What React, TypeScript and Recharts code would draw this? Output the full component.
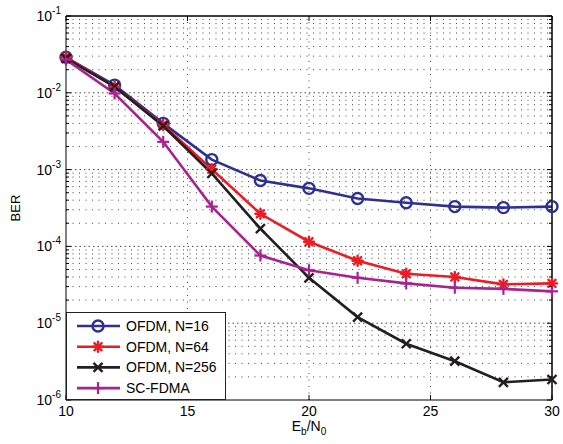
import React from "react";
import { LineChart, Line, XAxis, YAxis, ReferenceLine, Legend } from "recharts";

// Eb/N0 (dB)
const snr = [10, 12, 14, 16, 18, 20, 22, 24, 26, 28, 30];

// BER per scheme
const ofdm16 = [0.029, 0.0126, 0.004, 0.00135, 7.2e-4, 5.7e-4, 4.2e-4, 3.7e-4, 3.3e-4, 3.2e-4, 3.3e-4];
const ofdm64 = [0.029, 0.012, 0.0038, 0.00101, 2.66e-4, 1.15e-4, 6.5e-5, 4.4e-5, 4.0e-5, 3.2e-5, 3.3e-5];
const ofdm256 = [0.028, 0.012, 0.0037, 8.9e-4, 1.7e-4, 3.9e-5, 1.2e-5, 5.4e-6, 3.2e-6, 1.7e-6, 1.85e-6];
const scfdma = [0.027, 0.0098, 0.0023, 3.3e-4, 7.6e-5, 4.9e-5, 3.9e-5, 3.3e-5, 2.9e-5, 2.8e-5, 2.6e-5];

const xTicks = [10, 15, 20, 25, 30];
const decades = [1e-6, 1e-5, 1e-4, 1e-3, 1e-2, 1e-1];
const minorSteps = [1, 2, 3, 4, 5, 6, 7, 8, 9];

const FONT = '"Liberation Sans", Arial, Helvetica, sans-serif';

const series = [
  { key: "n16", name: "OFDM, N=16", color: "#2e3192", marker: "circle" },
  { key: "n64", name: "OFDM, N=64", color: "#ed1c24", marker: "star" },
  { key: "n256", name: "OFDM, N=256", color: "#231f20", marker: "x" },
  { key: "sc", name: "SC-FDMA", color: "#a8238f", marker: "plus" },
];

const data = snr.map((x, i) => ({
  x,
  n16: ofdm16[i],
  n64: ofdm64[i],
  n256: ofdm256[i],
  sc: scfdma[i],
}));

// all log ticks: 1..9 x each decade, up to 1e-1
const yTicks: number[] = [];
decades.forEach((d, i) => {
  if (i === decades.length - 1) {
    yTicks.push(d);
    return;
  }
  minorSteps.forEach((m) => yTicks.push(+(m * d).toPrecision(3)));
});
const gridY = yTicks.filter((v) => v > decades[0] && v < decades[decades.length - 1]);

function isDecade(v: number) {
  const e = Math.log10(v);
  return Math.abs(e - Math.round(e)) < 1e-6;
}

function Marker({ type, cx, cy, color }: { type: string; cx: number; cy: number; color: string }) {
  if (type === "circle") {
    return <circle cx={cx} cy={cy} r={5.5} fill="none" stroke={color} strokeWidth={2.4} />;
  }
  if (type === "star") {
    const r = 5;
    const d = r * 0.72;
    return (
      <g stroke={color} strokeWidth={2.4} strokeLinecap="round">
        <line x1={cx - r} y1={cy} x2={cx + r} y2={cy} />
        <line x1={cx} y1={cy - r} x2={cx} y2={cy + r} />
        <line x1={cx - d} y1={cy - d} x2={cx + d} y2={cy + d} />
        <line x1={cx - d} y1={cy + d} x2={cx + d} y2={cy - d} />
      </g>
    );
  }
  if (type === "x") {
    const r = 4.5;
    return (
      <g stroke={color} strokeWidth={2.4}>
        <line x1={cx - r} y1={cy - r} x2={cx + r} y2={cy + r} />
        <line x1={cx - r} y1={cy + r} x2={cx + r} y2={cy - r} />
      </g>
    );
  }
  const r = 6;
  return (
    <g stroke={color} strokeWidth={2.2}>
      <line x1={cx - r} y1={cy} x2={cx + r} y2={cy} />
      <line x1={cx} y1={cy - r} x2={cx} y2={cy + r} />
    </g>
  );
}

const BottomTick = (props: any) => {
  const { x, y, payload } = props;
  return (
    <g>
      <line x1={x} y1={y} x2={x} y2={y - 5} stroke="#000" strokeWidth={1} />
      <text x={x} y={y + 16} textAnchor="middle" fontSize={14} fontFamily={FONT} fill="#000">
        {payload.value}
      </text>
    </g>
  );
};

const TopTick = (props: any) => {
  const { x, y } = props;
  return <line x1={x} y1={y} x2={x} y2={y + 5} stroke="#000" strokeWidth={1} />;
};

const LeftTick = (props: any) => {
  const { x, y, payload } = props;
  const v = payload.value;
  const major = isDecade(v);
  const exp = Math.round(Math.log10(v));
  return (
    <g>
      <line x1={x} y1={y} x2={x + (major ? 5 : 3)} y2={y} stroke="#000" strokeWidth={1} />
      {major && (
        <text x={x - 5} y={y + 5} textAnchor="end" fontSize={14} fontFamily={FONT} fill="#000">
          <tspan>10</tspan>
          <tspan dy={-7} fontSize={10}>{exp}</tspan>
        </text>
      )}
    </g>
  );
};

const RightTick = (props: any) => {
  const { x, y, payload } = props;
  const major = isDecade(payload.value);
  return <line x1={x} y1={y} x2={x - (major ? 5 : 3)} y2={y} stroke="#000" strokeWidth={1} />;
};

const LegendBox = () => (
  <div
    style={{
      width: 160,
      height: 88,
      border: "1.5px solid #222",
      background: "#fff",
      boxSizing: "border-box",
    }}
  >
    <svg width={157} height={85}>
      {series.map((s, i) => {
        const cy = 13 + i * 20.7;
        return (
          <g key={s.key}>
            <line x1={10} y1={cy} x2={53} y2={cy} stroke={s.color} strokeWidth={2.6} />
            <Marker type={s.marker} cx={31} cy={cy} color={s.color} />
            <text x={59} y={cy + 5} fontSize={14} fontFamily={FONT} fill="#000">
              {s.name}
            </text>
          </g>
        );
      })}
    </svg>
  </div>
);

export default function App() {
  return (
    <div style={{ position: "absolute", left: 0, top: 0, background: "#fff" }}>
      <LineChart width={563} height={444} data={data} margin={{ top: 15, right: 10, bottom: 0, left: 0 }}>
        <XAxis
          dataKey="x"
          type="number"
          domain={[10, 30]}
          ticks={xTicks}
          interval={0}
          tickSize={0}
          tickMargin={0}
          height={44}
          stroke="#000"
          tick={<BottomTick />}
          label={{
            content: () => (
              <text x={309} y={431} textAnchor="middle" fontSize={14} fontFamily={FONT} fill="#000">
                E<tspan dy={4} fontSize={10}>b</tspan>
                <tspan dy={-4}>/N</tspan>
                <tspan dy={4} fontSize={10}>0</tspan>
              </text>
            ),
          }}
        />
        <XAxis
          xAxisId="top"
          orientation="top"
          dataKey="x"
          type="number"
          domain={[10, 30]}
          ticks={xTicks}
          interval={0}
          tickSize={0}
          tickMargin={0}
          height={1}
          stroke="#000"
          tick={<TopTick />}
        />
        <YAxis
          scale="log"
          type="number"
          domain={[1e-6, 1e-1]}
          allowDataOverflow
          ticks={yTicks}
          interval={0}
          tickSize={0}
          tickMargin={0}
          width={66}
          stroke="#000"
          tick={<LeftTick />}
          label={{
            content: () => (
              <text
                x={20}
                y={208}
                transform="rotate(-90 20 208)"
                textAnchor="middle"
                fontSize={13}
                fontFamily={FONT}
                fill="#000"
              >
                BER
              </text>
            ),
          }}
        />
        <YAxis
          yAxisId="right"
          orientation="right"
          scale="log"
          type="number"
          domain={[1e-6, 1e-1]}
          allowDataOverflow
          ticks={yTicks}
          interval={0}
          tickSize={0}
          tickMargin={0}
          width={1}
          stroke="#000"
          tick={<RightTick />}
        />
        {gridY.map((v) => (
          <ReferenceLine
            key={"gy" + v}
            y={v}
            stroke="#333"
            strokeWidth={0.9}
            strokeDasharray={isDecade(v) ? "1.5 3" : "1 5.5"}
          />
        ))}
        {xTicks.slice(1, -1).map((v) => (
          <ReferenceLine key={"gx" + v} x={v} stroke="#333" strokeWidth={0.9} strokeDasharray="1 5.5" />
        ))}
        {/* frame: top and right edges */}
        <ReferenceLine y={decades[decades.length - 1]} stroke="#000" strokeWidth={1} />
        <ReferenceLine x={xTicks[xTicks.length - 1]} stroke="#000" strokeWidth={1} />
        {/* invisible carrier so the top/right axes are drawn */}
        <Line
          xAxisId="top"
          yAxisId="right"
          dataKey="n16"
          stroke="none"
          dot={false}
          activeDot={false}
          legendType="none"
          isAnimationActive={false}
        />
        {series.map((s) => (
          <Line
            key={s.key}
            dataKey={s.key}
            name={s.name}
            stroke={s.color}
            strokeWidth={2.6}
            isAnimationActive={false}
            dot={(p: any) => <Marker key={s.key + p.index} type={s.marker} cx={p.cx} cy={p.cy} color={s.color} />}
          />
        ))}
        <Legend
          layout="vertical"
          align="center"
          verticalAlign="middle"
          content={<LegendBox />}
          wrapperStyle={{ left: 66, top: 312, width: "auto", height: "auto" }}
        />
      </LineChart>
    </div>
  );
}
